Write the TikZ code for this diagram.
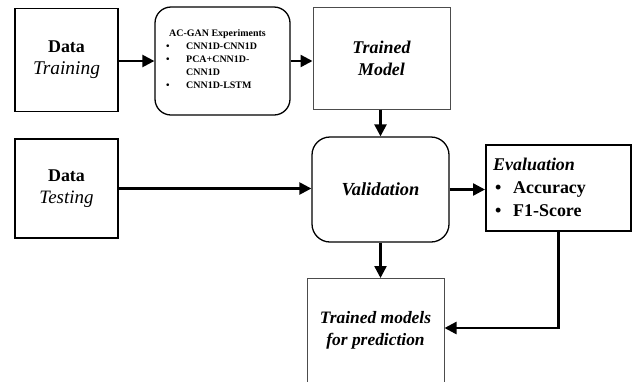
\documentclass[tikz,border=0pt]{standalone}
\usepackage{fontspec}
\setmainfont{Liberation Serif}
\usetikzlibrary{arrows.meta}
\begin{document}
\begin{tikzpicture}[x=1bp,y=-1bp,
  box/.style={draw, line width=1.3bp, inner sep=0pt, align=center},
  rbox/.style={box, rounded corners=18bp},
  conn/.style={line width=2.4bp, -{Triangle[length=12bp,width=12bp]}},
  big/.style={font=\fontsize{18}{22}\selectfont},
]
\useasboundingbox (0,0) rectangle (633,381);
\clip (0,0) rectangle (633,381);

% top row
\node[box, big, minimum width=103bp, minimum height=103bp] (train) at (66.5,60)
  {\bfseries Data\\\fontsize{19.5}{22}\selectfont\itshape Training};
\node[rbox, rounded corners=16bp, minimum width=135bp, minimum height=108bp] (acgan) at (222.5,61) {};
\node[anchor=north west, inner sep=0pt, font=\fontsize{10}{13}\selectfont\bfseries] (acgantext) at (164,27)
  {\begin{tabular}{@{}l@{}l@{}}
     \multicolumn{2}{@{}l@{}}{\hspace{5bp}AC-GAN Experiments}\\
     \makebox[22bp][l]{\hspace{2bp}•} & CNN1D-CNN1D\\
     \makebox[22bp][l]{\hspace{2bp}•} & PCA+CNN1D-\\
      & CNN1D\\
     \makebox[22bp][l]{\hspace{2bp}•} & CNN1D-LSTM
   \end{tabular}};
\node[box, big, draw=black!70, line width=1bp, minimum width=137bp, minimum height=102bp] (tmodel) at (381.5,58)
  {\bfseries\itshape Trained\\\bfseries\itshape Model};

% middle row
\node[box, big, minimum width=103bp, minimum height=99bp] (test) at (66.5,188.5)
  {\bfseries Data\\\fontsize{19}{22}\selectfont\itshape Testing};
\node[rbox, minimum width=137bp, minimum height=105bp, font=\fontsize{18.5}{22}\selectfont\bfseries\itshape] (valid) at (380.5,189.5)
  {Validation};
\node[box, line width=2bp, minimum width=145bp, minimum height=86bp] (eval) at (558.5,188) {};
\node[anchor=west, inner sep=0pt, font=\fontsize{18}{23}\selectfont\bfseries] (evaltext) at (493,189)
  {\begin{tabular}{@{}l@{}l@{}}
     \multicolumn{2}{@{}l@{}}{\itshape Evaluation}\\
     \makebox[20bp][l]{\hspace{2bp}•} & Accuracy\\
     \makebox[20bp][l]{\hspace{2bp}•} & F1-Score
   \end{tabular}};

% bottom box (runs past the lower edge)
\node[box, draw=black!70, line width=1bp, minimum width=137bp, minimum height=140bp, anchor=north] (pred) at (375.5,278) {};
\node[inner sep=0pt, align=center, font=\fontsize{17.5}{22}\selectfont\bfseries\itshape] (predtext) at (375.5,330)
  {Trained models\\for prediction};
\coordinate (bend) at (558.5,328);

% connectors
\draw[conn] (train.east |- acgan.west) -- (acgan.west);
\draw[conn] (acgan.east) -- (acgan.east -| tmodel.west);
\draw[conn] (tmodel.south -| valid.north) -- (valid.north);
\draw[conn] (test.east) -- (test.east -| valid.west);
\draw[conn] (valid.east) -- (valid.east -| eval.west);
\draw[conn] (valid.south) -- (valid.south |- pred.north);
\draw[conn] (eval.south -| bend) -- (bend) -- (bend -| pred.east);
\end{tikzpicture}
\end{document}
